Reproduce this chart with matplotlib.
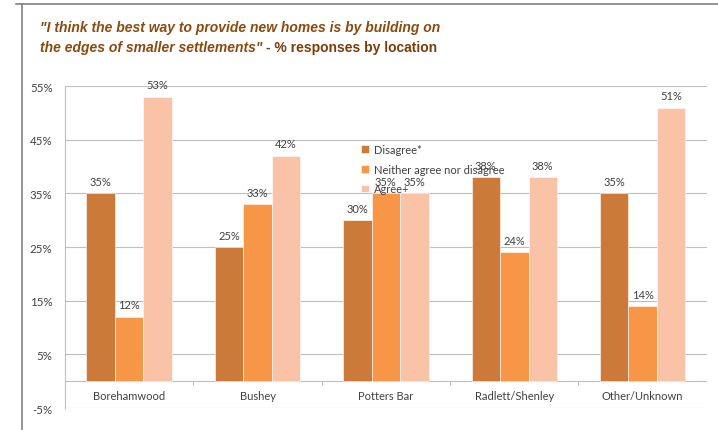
import numpy as np
import matplotlib.pyplot as plt
from matplotlib.lines import Line2D

locations = ['Borehamwood', 'Bushey', 'Potters Bar', 'Radlett/Shenley', 'Other/Unknown']
series_names = ['Disagree*', 'Neither agree nor disagree', 'Agree+']
disagree = [35, 25, 30, 38, 35]
neither = [12, 33, 35, 24, 14]
agree = [53, 42, 35, 38, 51]
yticks = [-5, 5, 15, 25, 35, 45, 55]

colors = ['#CC7A3A', '#F79646', '#FAC2A6']
label_color = '#404040'

plt.rcParams['font.family'] = ['Lato', 'DejaVu Sans']

fig = plt.figure(figsize=(7.18, 4.31), dpi=100)
ax = fig.add_axes([0.0905, 0.051, 0.894, 0.747])

x = np.arange(len(locations))
w = 0.222
for k, vals in enumerate([disagree, neither, agree]):
    pos = x + (k - 1) * w
    ax.bar(pos, vals, width=w, color=colors[k], edgecolor='white', linewidth=0.4,
           label=series_names[k], zorder=2)
    for p, v in zip(pos, vals):
        ax.text(p, v + 1.2, '{}%'.format(v), ha='center', va='bottom',
                fontsize=8, color=label_color, zorder=4)

ax.set_xlim(-0.5, 4.5)
ax.set_ylim(-5, 55)
ax.set_yticks(yticks)
ax.set_yticklabels(['{}%'.format(t) for t in yticks], fontsize=8.3, color=label_color)
ax.tick_params(axis='y', length=0, pad=9)
ax.set_xticks([])
ax.grid(axis='y', color='#BFBFBF', linewidth=0.8, zorder=0)
for s in ['top', 'right', 'bottom']:
    ax.spines[s].set_visible(False)
ax.spines['left'].set_color('#BFBFBF')

# category axis at zero with tick marks between groups
ax.axhline(0, color='#BFBFBF', linewidth=0.8, zorder=1)
ax.vlines(np.arange(-0.5, 5, 1), -0.8, 0, color='#BFBFBF', linewidth=0.8, zorder=1)
for i, loc in enumerate(locations):
    ax.text(i, -2.6, loc, ha='center', va='center', fontsize=8, color=label_color)

leg = ax.legend(loc='upper left', bbox_to_anchor=(0.455, 0.835), frameon=False,
                fontsize=8, handlelength=0.7, handleheight=0.7, handletextpad=0.4,
                labelspacing=0.8, borderaxespad=0)
for t in leg.get_texts():
    t.set_color(label_color)

# title
tcol = '#8B4A0E'
fig.text(0.056, 0.935, '"I think the best way to provide new homes is by building on',
         fontsize=10, fontweight='bold', fontstyle='italic', color=tcol,
         family='Liberation Sans', va='center')
t1 = fig.text(0.056, 0.888, 'the edges of smaller settlements"',
              fontsize=10, fontweight='bold', fontstyle='italic', color=tcol,
              family='Liberation Sans', va='center')
fig.canvas.draw()
bb = t1.get_window_extent()
fig.text(bb.x1 / fig.bbox.width + 0.004, 0.888, '- % responses by location',
         fontsize=10, fontweight='bold', color='#7A3E0A', family='Liberation Sans', va='center')

# outer frame lines
fig.add_artist(Line2D([0.022, 1.0], [0.988, 0.988], color='#808080', linewidth=1.2))
fig.add_artist(Line2D([0.031, 0.031], [0.0, 0.988], color='#808080', linewidth=1.2))

fig.savefig('out.png', dpi=100)
